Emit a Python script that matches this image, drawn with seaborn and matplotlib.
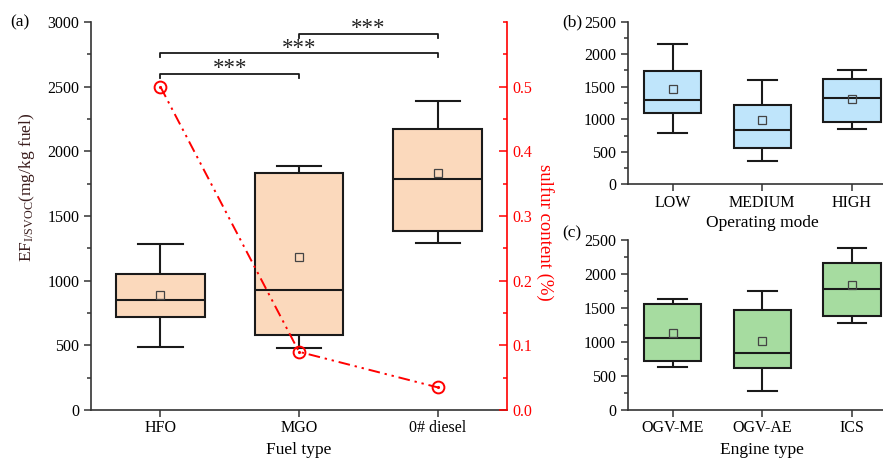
import numpy as np
import pandas as pd
import matplotlib
matplotlib.use("Agg")
import matplotlib.pyplot as plt
import seaborn as sns
from matplotlib.ticker import MultipleLocator

# ------------------------
# Data (box statistics)
# ------------------------
fuel = ["HFO", "MGO", "0# diesel"]
fuel_lo = [490, 480, 1289]
fuel_q1 = [722, 580, 1387]
fuel_med = [851, 926, 1784]
fuel_q3 = [1054, 1833, 2176]
fuel_hi = [1281, 1889, 2387]
fuel_mean = [887, 1186, 1835]
sulfur = [0.50, 0.09, 0.035]

mode = ["LOW", "MEDIUM", "HIGH"]
mode_lo = [789, 354, 855]
mode_q1 = [1101, 563, 958]
mode_med = [1291, 835, 1327]
mode_q3 = [1747, 1224, 1624]
mode_hi = [2152, 1604, 1753]
mode_mean = [1465, 984, 1307]

engine = ["OGV-ME", "OGV-AE", "ICS"]
eng_lo = [632, 284, 1284]
eng_q1 = [725, 618, 1378]
eng_med = [1054, 843, 1779]
eng_q3 = [1554, 1466, 2166]
eng_hi = [1637, 1750, 2382]
eng_mean = [1137, 1019, 1838]

# significance brackets: (from, to, height)
brackets = [(0, 1, 2600), (0, 2, 2760), (1, 2, 2910)]


def long_table(cats, lo, q1, med, q3, hi):
    # five points per group reproduce min / quartiles / max exactly
    rows = []
    for c, a, b, m, d, e in zip(cats, lo, q1, med, q3, hi):
        for v in (a, b, m, d, e):
            rows.append((c, v))
    return pd.DataFrame(rows, columns=["cat", "val"])


plt.rcParams["font.family"] = ["Liberation Serif", "DejaVu Serif"]
plt.rcParams["mathtext.fontset"] = "custom"
plt.rcParams["mathtext.rm"] = "Liberation Serif"
plt.rcParams["mathtext.it"] = "Liberation Serif:italic"
plt.rcParams["font.size"] = 11.5

edge = "#1a1a1a"
spine_col = "#333333"


def box_panel(ax, df, cats, means, color):
    sns.boxplot(data=df, x="cat", y="val", order=cats, ax=ax, color=color,
                saturation=1, width=0.64, whis=(0, 100), linecolor=edge,
                linewidth=1.5, showfliers=False)
    ax.plot(np.arange(len(cats)), means, "s", ms=5.5, mfc="none",
            mec="#444444", mew=0.9, zorder=5)
    ax.set_xlim(-0.5, len(cats) - 0.5)
    ax.yaxis.set_minor_locator(MultipleLocator(250))
    for s in ("top", "right"):
        ax.spines[s].set_visible(False)
    for s in ("left", "bottom"):
        ax.spines[s].set_color(spine_col)
        ax.spines[s].set_linewidth(1.2)
    ax.tick_params(which="both", direction="out", color=spine_col, width=1.1)
    ax.tick_params(which="major", length=5)
    ax.tick_params(which="minor", length=3)
    ax.tick_params(axis="x", pad=2.5)


fig = plt.figure(figsize=(8.83, 4.58), dpi=100)

# ------------------------
# Panel (a): fuel type + sulfur content
# ------------------------
ax_a = fig.add_axes([0.1031, 0.1048, 0.4711, 0.8472])
box_panel(ax_a, long_table(fuel, fuel_lo, fuel_q1, fuel_med, fuel_q3, fuel_hi),
          fuel, fuel_mean, "#FBD9BC")
ax_a.set_ylim(0, 3000)
ax_a.yaxis.set_major_locator(MultipleLocator(500))
ax_a.set_xlabel("Fuel type", fontsize=12.5, labelpad=4)
ax_a.set_ylabel(r"EF$_{\rm I/SVOC}$(mg/kg fuel)", fontsize=12.5,
                color="#3b1e1e")
ax_a.yaxis.set_label_coords(-0.13, 0.575)

for i, j, h in brackets:
    ax_a.plot([i, i, j, j], [h - 30, h, h, h - 30], color=edge, lw=1.3)
    ax_a.text((i + j) / 2, h - 4, "***", ha="center", va="baseline",
              fontsize=16.5, color="#222222")

ax_s = ax_a.twinx()
x_pos = np.arange(len(fuel))
ax_s.plot(x_pos, sulfur, color="red", lw=1.4, dashes=(6, 2.5, 1.2, 2.5, 1.2, 2.5),
          marker="o", ms=8.5, mfc="none", mec="red", mew=1.4)
ax_s.plot(x_pos, sulfur, ".", color="red", ms=2.5)
ax_s.set_ylim(0, 0.6)
ax_s.yaxis.set_minor_locator(MultipleLocator(0.05))
ax_s.set_yticks([0.0, 0.1, 0.2, 0.3, 0.4, 0.5])
ax_s.tick_params(which="both", direction="in", colors="red", width=1.1)
ax_s.tick_params(which="major", length=6)
ax_s.tick_params(which="minor", length=3)
ax_s.spines["right"].set_color("red")
ax_s.spines["right"].set_linewidth(1.2)
for s in ("top", "left", "bottom"):
    ax_s.spines[s].set_visible(False)
ax_s.set_ylabel("sulfur content (%)", color="red", fontsize=13.5, rotation=270,
                va="center")
ax_s.yaxis.set_label_coords(1.092, 0.459)

# ------------------------
# Panel (b): operating mode
# ------------------------
ax_b = fig.add_axes([0.7109, 0.5976, 0.3047, 0.3550])
box_panel(ax_b, long_table(mode, mode_lo, mode_q1, mode_med, mode_q3, mode_hi),
          mode, mode_mean, "#BFE5FB")
ax_b.set_ylim(0, 2500)
ax_b.yaxis.set_major_locator(MultipleLocator(500))
ax_b.set_xlabel("Operating mode", fontsize=12.5, labelpad=3)
ax_b.set_ylabel("")

# ------------------------
# Panel (c): engine type
# ------------------------
ax_c = fig.add_axes([0.7109, 0.1048, 0.3047, 0.3712])
box_panel(ax_c, long_table(engine, eng_lo, eng_q1, eng_med, eng_q3, eng_hi),
          engine, eng_mean, "#A6DCA0")
ax_c.set_ylim(0, 2500)
ax_c.yaxis.set_major_locator(MultipleLocator(500))
ax_c.set_xlabel("Engine type", fontsize=12.5, labelpad=4)
ax_c.set_ylabel("")

# panel letters
fig.text(0.012, 0.952, "(a)", fontsize=12.5, va="center")
fig.text(0.637, 0.952, "(b)", fontsize=12.5, va="center")
fig.text(0.637, 0.491, "(c)", fontsize=12.5, va="center")

fig.savefig("out.png", dpi=100)
